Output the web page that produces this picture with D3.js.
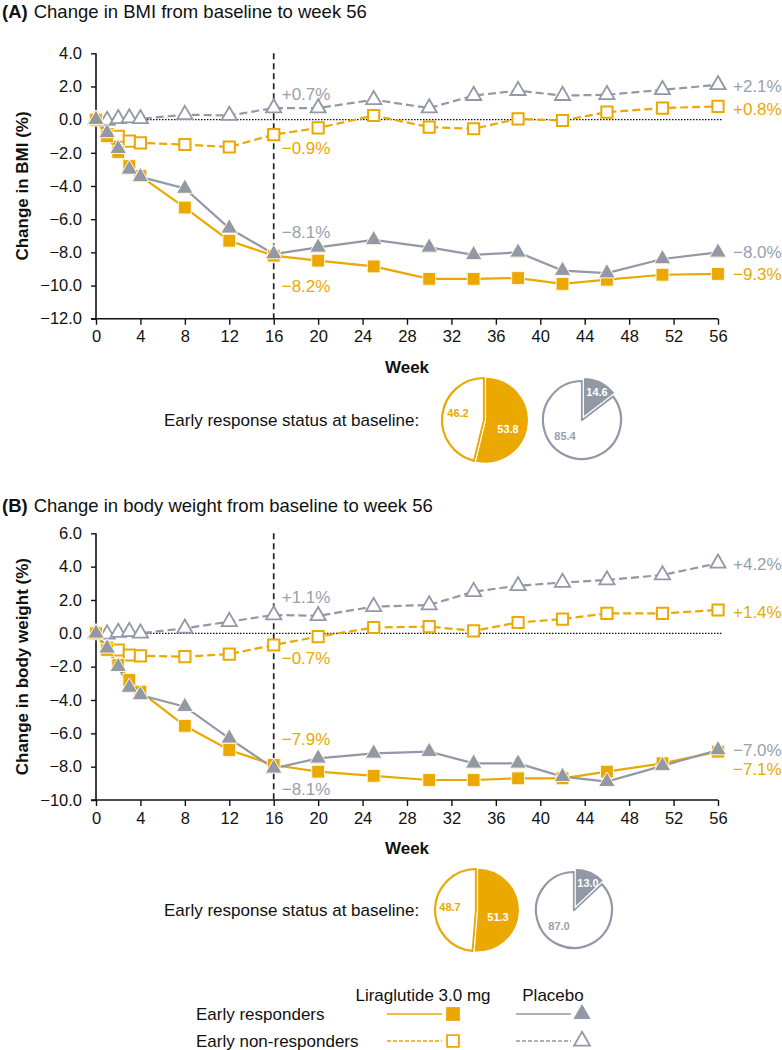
<!DOCTYPE html>
<html><head><meta charset="utf-8">
<script src="https://cdn.jsdelivr.net/npm/d3@7"></script>
<style>
html,body{margin:0;padding:0;background:#fff;}
svg{display:block;font-family:"Liberation Sans",Arial,Helvetica,sans-serif;}
</style></head>
<body><svg id="chart" width="782" height="1050"></svg>
<script>
// ---------- DATA ----------
const weeks = [0, 1, 2, 3, 4, 8, 12, 16, 20, 25, 30, 34, 38, 42, 46, 51, 56];
const weekTicks = [0, 4, 8, 12, 16, 20, 24, 28, 32, 36, 40, 44, 48, 52, 56];

// Panel A: change in BMI (%)
const bmiLiraResp = [0, -1.0, -1.95, -2.8, -3.4, -5.3, -7.3, -8.2, -8.5, -8.85, -9.6, -9.6, -9.55, -9.9, -9.65, -9.35, -9.3];
const bmiLiraNon  = [0, -0.9, -1.0, -1.3, -1.4, -1.5, -1.65, -0.9, -0.5, 0.25, -0.45, -0.55, 0.05, -0.05, 0.45, 0.7, 0.8];
const bmiPlacResp = [0, -0.8, -1.75, -3.0, -3.45, -4.15, -6.55, -8.1, -7.7, -7.25, -7.7, -8.15, -8.0, -9.1, -9.25, -8.4, -8.0];
const bmiPlacNon  = [0, -0.05, 0.05, 0.1, 0.05, 0.3, 0.25, 0.7, 0.7, 1.2, 0.7, 1.45, 1.75, 1.45, 1.5, 1.8, 2.1];
const bmiTicks = [4, 2, 0, -2, -4, -6, -8, -10, -12];
const bmiPieLira = [53.8, 46.2];   // [early responders, early non-responders]
const bmiPiePlac = [14.6, 85.4];

// Panel B: change in body weight (%)
const bwLiraResp = [0, -1.0, -1.9, -2.8, -3.5, -5.55, -7.0, -7.9, -8.3, -8.55, -8.8, -8.8, -8.7, -8.7, -8.3, -7.8, -7.1];
const bwLiraNon  = [0, -0.9, -1.0, -1.3, -1.35, -1.4, -1.25, -0.7, -0.2, 0.35, 0.4, 0.15, 0.65, 0.85, 1.2, 1.2, 1.4];
const bwPlacResp = [0, -0.9, -2.0, -3.25, -3.7, -4.4, -6.3, -8.1, -7.5, -7.2, -7.1, -7.8, -7.8, -8.6, -8.9, -7.95, -7.0];
const bwPlacNon  = [0, -0.05, 0.05, 0.1, 0.0, 0.3, 0.7, 1.1, 1.05, 1.6, 1.7, 2.5, 2.85, 3.05, 3.2, 3.5, 4.2];
const bwTicks = [6, 4, 2, 0, -2, -4, -6, -8, -10];
const bwPieLira = [51.3, 48.7];
const bwPiePlac = [13.0, 87.0];

// ---------- STYLE ----------
const ORANGE = "#EAA800";
const GRAY = "#9298A6";
const GRAYTXT = "#999FAD";
const svg = d3.select("#chart");

function fmt(v){ return (v > 0 ? "+" : "\u2212") + Math.abs(v).toFixed(1); }
function pct(v){ return fmt(v) + "%"; }

function panel(cfg){
  const g = svg.append("g");
  const x = d3.scaleLinear().domain([0, 56]).range([96, 718]);
  const y = d3.scaleLinear().domain([cfg.ticks[0], cfg.ticks[cfg.ticks.length-1]]).range([cfg.top, cfg.bottom]);

  // title
  const t = g.append("text").attr("x", 2).attr("y", cfg.titleY).attr("font-size", 18.5).attr("fill", "#111");
  t.append("tspan").attr("font-weight", "bold").text(cfg.letter);
  t.append("tspan").attr("dx", 6).text(cfg.title);

  // y axis
  const yAxis = d3.axisLeft(y).tickValues(cfg.ticks).tickSize(5).tickPadding(9)
    .tickFormat(d => (d < 0 ? "\u2212" : "") + Math.abs(d).toFixed(1));
  const ya = g.append("g").attr("transform", "translate(96,0)").call(yAxis);
  ya.select(".domain").attr("d", `M0,${cfg.top}V${cfg.bottom}`).attr("stroke", "#111").attr("stroke-width", 1.6);
  ya.selectAll(".tick line").attr("stroke", "#111").attr("stroke-width", 1.4);
  ya.selectAll(".tick text").attr("font-size", 16.5).attr("fill", "#111").attr("font-family", null);

  // x axis
  const xAxis = d3.axisBottom(x).tickValues(weekTicks).tickSize(6).tickPadding(6).tickFormat(d3.format("d"));
  const xa = g.append("g").attr("transform", `translate(0,${cfg.bottom})`).call(xAxis);
  xa.select(".domain").attr("d", "M91,0H718").attr("stroke", "#111").attr("stroke-width", 1.6);
  xa.selectAll(".tick line").attr("stroke", "#111").attr("stroke-width", 1.4);
  xa.selectAll(".tick text").attr("font-size", 16.5).attr("fill", "#111").attr("font-family", null);

  // axis titles
  g.append("text").attr("x", 407).attr("y", cfg.bottom + 54).attr("text-anchor", "middle")
    .attr("font-size", 17).attr("font-weight", "bold").attr("fill", "#111").text("Week");
  g.append("text").attr("transform", `translate(28,${(cfg.top+cfg.bottom)/2}) rotate(-90)`)
    .attr("text-anchor", "middle").attr("font-size", 17).attr("font-weight", "bold").attr("fill", "#111").text(cfg.yTitle);

  // reference lines
  g.append("line").attr("x1", 96).attr("x2", x(56) + 5).attr("y1", y(0)).attr("y2", y(0))
    .attr("stroke", "#111").attr("stroke-width", 1.3).attr("stroke-dasharray", "1.5,1.5");
  g.append("line").attr("x1", x(16)).attr("x2", x(16)).attr("y1", cfg.top).attr("y2", cfg.bottom)
    .attr("stroke", "#222").attr("stroke-width", 1.7).attr("stroke-dasharray", "6,4");

  const line = d3.line().x((d, i) => x(weeks[i])).y(d => y(d));
  const series = [
    {v: cfg.liraNon, color: ORANGE, dash: "8,4", sym: d3.symbolSquare, size: 125, fill: "#fff", sw: 2},
    {v: cfg.placNon, color: GRAY, dash: "8,4", sym: d3.symbolTriangle, size: 100, fill: "#fff", sw: 1.8},
    {v: cfg.liraResp, color: ORANGE, dash: null, sym: d3.symbolSquare, size: 165, fill: ORANGE, sw: 1},
    {v: cfg.placResp, color: GRAY, dash: null, sym: d3.symbolTriangle, size: 120, fill: GRAY, sw: 1}
  ];
  series.forEach(s => {
    g.append("path").datum(s.v).attr("d", line).attr("fill", "none")
      .attr("stroke", s.color).attr("stroke-width", 2.2).attr("stroke-dasharray", s.dash);
  });
  series.forEach(s => {
    g.selectAll(null).data(s.v).enter().append("path")
      .attr("transform", (d, i) => `translate(${x(weeks[i])},${y(d)})`)
      .attr("d", d3.symbol(s.sym, s.size))
      .attr("fill", s.fill)
      .attr("stroke", s.fill === "#fff" ? s.color : "#fff8e0")
      .attr("stroke-width", s.sw);
  });

  // annotations at week 16 and week 56
  const i16 = weeks.indexOf(16), iEnd = weeks.length - 1;
  cfg.notes16.forEach(n => {
    g.append("text").attr("x", x(16) + 8).attr("y", y(n.s[i16]) + n.dy)
      .attr("dominant-baseline", "central").attr("font-size", 17)
      .attr("fill", n.c).text(pct(n.s[i16]));
  });
  cfg.notesEnd.forEach(n => {
    g.append("text").attr("x", x(56) + 15).attr("y", y(n.s[iEnd]) + n.dy)
      .attr("dominant-baseline", "central").attr("font-size", 17)
      .attr("fill", n.c).text(pct(n.s[iEnd]));
  });

  // pies
  g.append("text").attr("x", 164).attr("y", cfg.pieY).attr("dominant-baseline", "central")
    .attr("font-size", 17).attr("fill", "#111").text("Early response status at baseline:");
  const pie = d3.pie().sort(null).value(d => d);

  function drawPie(vals, cx, cy, r, color, explode, lab){
    const pg = g.append("g").attr("transform", `translate(${cx},${cy})`);
    const arcs = pie(vals);
    const arcNon = d3.arc().innerRadius(0).outerRadius(r - 1);
    const arcRes = d3.arc().innerRadius(0).outerRadius(r);
    // non-responders (open)
    pg.append("path").attr("d", arcNon(arcs[1])).attr("fill", "#fff")
      .attr("stroke", color).attr("stroke-width", 2.2).attr("stroke-linejoin", "round");
    // responders (filled), slightly exploded
    const mid = (arcs[0].startAngle + arcs[0].endAngle) / 2;
    pg.append("path").attr("d", arcRes(arcs[0]))
      .attr("transform", `translate(${Math.sin(mid)*explode},${-Math.cos(mid)*explode})`)
      .attr("fill", color).attr("stroke", "#fff").attr("stroke-width", 1.2);
    // labels
    pg.append("text").attr("x", lab[0][0]).attr("y", lab[0][1]).attr("text-anchor", "middle")
      .attr("dominant-baseline", "central").attr("font-size", 11).attr("font-weight", "bold")
      .attr("fill", "#fff").text(vals[0].toFixed(1));
    pg.append("text").attr("x", lab[1][0]).attr("y", lab[1][1]).attr("text-anchor", "middle")
      .attr("dominant-baseline", "central").attr("font-size", 11).attr("font-weight", "bold")
      .attr("fill", color === GRAY ? GRAYTXT : color).text(vals[1].toFixed(1));
  }
  drawPie(cfg.pieLira, cfg.pieLiraX, cfg.pieY, cfg.rL, ORANGE, 1.5, cfg.labL);
  drawPie(cfg.piePlac, cfg.piePlacX, cfg.pieY, cfg.rP, GRAY, 3, cfg.labP);
}

panel({
  letter: "(A)", title: "Change in BMI from baseline to week 56", titleY: 18,
  yTitle: "Change in BMI (%)", ticks: bmiTicks, top: 53.3, bottom: 318.7,
  liraResp: bmiLiraResp, liraNon: bmiLiraNon, placResp: bmiPlacResp, placNon: bmiPlacNon,
  notes16: [
    {s: bmiPlacNon, c: GRAYTXT, dy: -14},
    {s: bmiLiraNon, c: ORANGE, dy: 14},
    {s: bmiPlacResp, c: GRAYTXT, dy: -22},
    {s: bmiLiraResp, c: ORANGE, dy: 31}
  ],
  notesEnd: [
    {s: bmiPlacNon, c: GRAYTXT, dy: 2},
    {s: bmiLiraNon, c: ORANGE, dy: 3},
    {s: bmiPlacResp, c: GRAYTXT, dy: 0},
    {s: bmiLiraResp, c: ORANGE, dy: 1}
  ],
  pieY: 420, pieLira: bmiPieLira, piePlac: bmiPiePlac,
  pieLiraX: 484, piePlacX: 582, rL: 43, rP: 40,
  labL: [[24, 9], [-26, -7]], labP: [[15, -28], [-17, 16]]
});

panel({
  letter: "(B)", title: "Change in body weight from baseline to week 56", titleY: 512,
  yTitle: "Change in body weight (%)", ticks: bwTicks, top: 533.3, bottom: 800,
  liraResp: bwLiraResp, liraNon: bwLiraNon, placResp: bwPlacResp, placNon: bwPlacNon,
  notes16: [
    {s: bwPlacNon, c: GRAYTXT, dy: -17},
    {s: bwLiraNon, c: ORANGE, dy: 14},
    {s: bwLiraResp, c: ORANGE, dy: -25},
    {s: bwPlacResp, c: GRAYTXT, dy: 21}
  ],
  notesEnd: [
    {s: bwPlacNon, c: GRAYTXT, dy: 1},
    {s: bwLiraNon, c: ORANGE, dy: 3},
    {s: bwPlacResp, c: GRAYTXT, dy: 1},
    {s: bwLiraResp, c: ORANGE, dy: 18}
  ],
  pieY: 910, pieLira: bwPieLira, piePlac: bwPiePlac,
  pieLiraX: 476, piePlacX: 574, rL: 42, rP: 39,
  labL: [[22, 7], [-26, -3]], labP: [[14, -27], [-15, 16]]
});

// ---------- LEGEND ----------
const lg = svg.append("g").attr("font-size", 17).attr("fill", "#111");
lg.append("text").attr("x", 423).attr("y", 995).attr("text-anchor", "middle").attr("dominant-baseline", "central").text("Liraglutide 3.0 mg");
lg.append("text").attr("x", 553).attr("y", 995).attr("text-anchor", "middle").attr("dominant-baseline", "central").text("Placebo");
lg.append("text").attr("x", 196).attr("y", 1014).attr("dominant-baseline", "central").text("Early responders");
lg.append("text").attr("x", 196).attr("y", 1041).attr("dominant-baseline", "central").text("Early non-responders");
const legendItems = [
  {x1: 387, x2: 442, sx: 453, y: 1014, c: ORANGE, dash: null, sym: d3.symbolSquare, size: 190, fill: ORANGE},
  {x1: 516, x2: 571, sx: 582, y: 1014, c: GRAY, dash: null, sym: d3.symbolTriangle, size: 130, fill: GRAY},
  {x1: 387, x2: 442, sx: 453, y: 1041, c: ORANGE, dash: "4,2", sym: d3.symbolSquare, size: 140, fill: "#fff"},
  {x1: 516, x2: 571, sx: 582, y: 1041, c: GRAY, dash: "4,2", sym: d3.symbolTriangle, size: 110, fill: "#fff"}
];
legendItems.forEach(it => {
  lg.append("line").attr("x1", it.x1).attr("x2", it.x2).attr("y1", it.y).attr("y2", it.y)
    .attr("stroke", it.c).attr("stroke-width", 1.6).attr("stroke-dasharray", it.dash);
  lg.append("path").attr("transform", `translate(${it.sx},${it.y})`).attr("d", d3.symbol(it.sym, it.size))
    .attr("fill", it.fill).attr("stroke", it.fill === "#fff" ? it.c : "none").attr("stroke-width", 1.8);
});
</script></body></html>
